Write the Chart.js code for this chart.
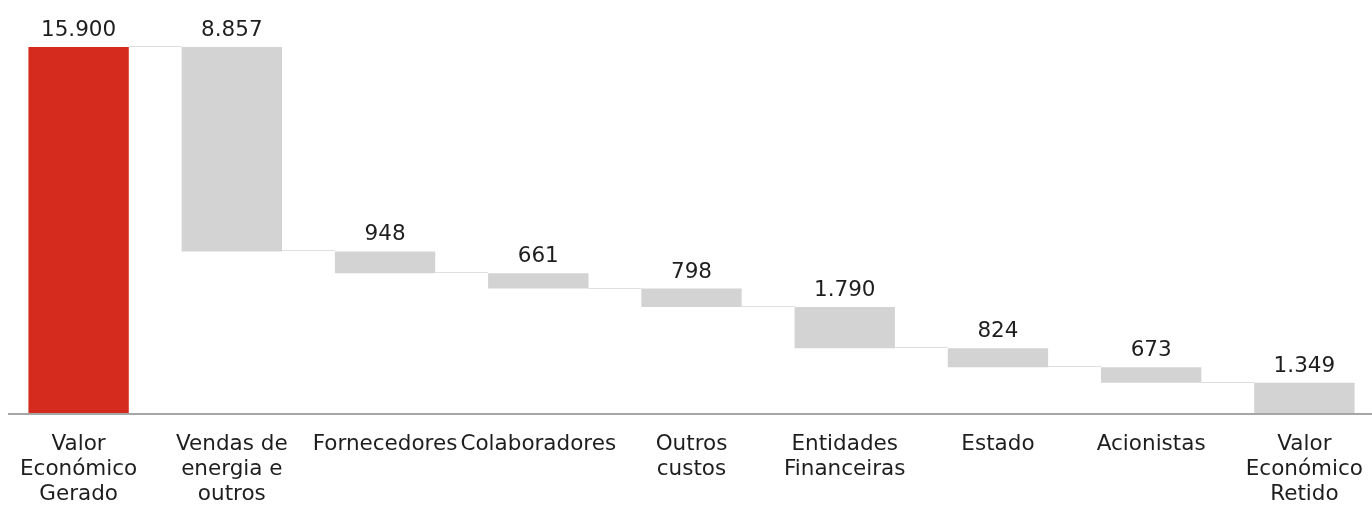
<!DOCTYPE html>
<html>
<head>
<meta charset="utf-8">
<script src="https://cdn.jsdelivr.net/npm/chart.js@4.4.1/dist/chart.umd.min.js"></script>
<style>
  html, body { margin: 0; padding: 0; background: #ffffff; overflow: hidden; width: 1372px; height: 505px; }
  #wrap { position: absolute; left: 0; top: 0; width: 1384px; height: 505px; }
</style>
</head>
<body>
<div id="wrap"><canvas id="c" width="1384" height="505"></canvas></div>
<script>
const categories = [
  ["Valor", "Económico", "Gerado"],
  ["Vendas de", "energia e", "outros"],
  "Fornecedores",
  "Colaboradores",
  ["Outros", "custos"],
  ["Entidades", "Financeiras"],
  "Estado",
  "Acionistas",
  ["Valor", "Económico", "Retido"]
];
const values = [15900, 8857, 948, 661, 798, 1790, 824, 673, 1349];
const kinds = ["total", "dec", "dec", "dec", "dec", "dec", "dec", "dec", "total"];
const valueLabels = ["15.900", "8.857", "948", "661", "798", "1.790", "824", "673", "1.349"];

const RED = "#d52b1e";
const GREY = "#d3d3d3";
const FONT = "'DejaVu Sans', Verdana, sans-serif";

// Build floating ranges and connector levels from the data
const ranges = [];
const levels = [];
let running = 0;
values.forEach((v, i) => {
  if (kinds[i] === "total") {
    ranges.push([0, v]);
    running = v;
  } else {
    ranges.push([running - v, running]);
    running -= v;
  }
  levels.push(running);
});
const colors = kinds.map((k, i) => (i === 0 ? RED : GREY));

const waterfallPlugin = {
  id: "waterfall",
  beforeDatasetsDraw(chart) {
    const ctx = chart.ctx;
    const meta = chart.getDatasetMeta(0);
    const y = chart.scales.y;
    ctx.save();
    ctx.strokeStyle = "#dedede";
    ctx.lineWidth = 1;
    for (let i = 0; i < meta.data.length - 1; i++) {
      const a = meta.data[i], b = meta.data[i + 1];
      const py = Math.round(y.getPixelForValue(levels[i])) - 0.5;
      ctx.beginPath();
      ctx.moveTo(a.x + a.width / 2, py);
      ctx.lineTo(b.x - b.width / 2, py);
      ctx.stroke();
    }
    ctx.restore();
  },
  afterDatasetsDraw(chart) {
    const ctx = chart.ctx;
    const meta = chart.getDatasetMeta(0);
    const y = chart.scales.y;
    const area = chart.chartArea;
    ctx.save();
    // axis line
    const py = y.getPixelForValue(0);
    ctx.strokeStyle = "#a6a6a6";
    ctx.lineWidth = 2;
    ctx.beginPath();
    ctx.moveTo(area.left + 6, py);
    ctx.lineTo(area.right, py);
    ctx.stroke();
    // value labels
    ctx.fillStyle = "#1e1e1e";
    ctx.font = "21.5px " + FONT;
    ctx.textAlign = "center";
    ctx.textBaseline = "alphabetic";
    meta.data.forEach((el, i) => {
      const top = Math.min(el.y, el.base);
      ctx.fillText(valueLabels[i], el.x, top - 11);
    });
    ctx.restore();
  }
};

new Chart(document.getElementById("c"), {
  type: "bar",
  data: {
    labels: categories,
    datasets: [{
      data: ranges,
      backgroundColor: colors,
      borderWidth: 0,
      barPercentage: 0.655,
      categoryPercentage: 1.0
    }]
  },
  options: {
    responsive: false,
    animation: false,
    events: [],
    layout: { padding: { left: 2, right: 3, top: 0, bottom: 0 } },
    plugins: { legend: { display: false }, tooltip: { enabled: false } },
    scales: {
      x: {
        grid: { display: false, drawTicks: false },
        border: { display: false },
        ticks: {
          autoSkip: false,
          maxRotation: 0,
          minRotation: 0,
          padding: 18,
          color: "#1e1e1e",
          font: { family: FONT, size: 21.5, lineHeight: 1.163 }
        },
        afterFit(scale) { scale.height = 91; }
      },
      y: {
        display: false,
        min: 0,
        max: 17936
      }
    }
  },
  plugins: [waterfallPlugin]
});
</script>
</body>
</html>
